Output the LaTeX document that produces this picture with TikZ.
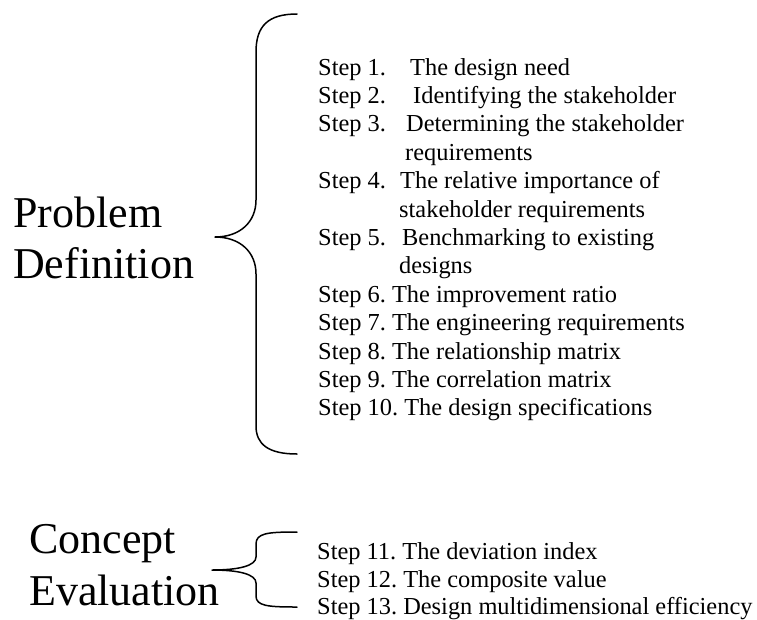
\documentclass[tikz,border=0pt]{standalone}
\usepackage{fontspec}
\setmainfont{Liberation Serif}
\frenchspacing
\tikzset{
  steptext/.style={anchor=base west, inner sep=0pt, font=\fontsize{24.4}{28.4}\selectfont},
  phase/.style={anchor=base west, inner sep=0pt, font=\fontsize{44}{51}\selectfont},
  brace/.style={line width=1.5pt, line join=round, line cap=round}
}
\newcommand{\stepno}[2]{\makebox[#1pt][l]{#2}}

\begin{document}
\begin{tikzpicture}[x=1pt,y=-1pt]
  \useasboundingbox (0,0) rectangle (757,619);
  \node[phase] (problem) at (13,227) {Problem};
  \node[phase] (definition) at (13,278) {Definition};
  \node[phase] (concept) at (29,553) {Concept};
  \node[phase] (evaluation) at (29,605) {Evaluation};
  \draw[brace] (297,14) .. controls (268,14) and (256,26) .. (256,52) -- (256,200)
    .. controls (256,222) and (240,237) .. (215,237)
    .. controls (240,237) and (256,252) .. (256,274) -- (256,426)
    .. controls (256,444) and (268,454) .. (297,454);
  \draw[brace] (297,532) .. controls (268,532) and (256,533) .. (256,544) -- (256,557)
    .. controls (256,566) and (238,570) .. (212,570)
    .. controls (238,570) and (256,574) .. (256,583) -- (256,596)
    .. controls (256,606) and (268,607) .. (297,607);
  \node[steptext] (s1) at (318,75) {\stepno{92}{Step 1.}The design need};
  \node[steptext] (s2) at (318,103.4) {\stepno{95}{Step 2.}Identifying the stakeholder};
  \node[steptext] (s3) at (318,131.8) {\stepno{88}{Step 3.}Determining the stakeholder};
  \node[steptext] (s3b) at (405,160.2) {requirements};
  \node[steptext] (s4) at (318,188.6) {\stepno{82}{Step 4.}The relative importance of};
  \node[steptext] (s4b) at (399,217) {stakeholder requirements};
  \node[steptext] (s5) at (318,245.4) {\stepno{84}{Step 5.}Benchmarking to existing};
  \node[steptext] (s5b) at (399,273.8) {designs};
  \node[steptext] (s6) at (318,302.2) {Step 6. The improvement ratio};
  \node[steptext] (s7) at (318,330.6) {Step 7. The engineering requirements};
  \node[steptext] (s8) at (318,359) {Step 8. The relationship matrix};
  \node[steptext] (s9) at (318,387.4) {Step 9. The correlation matrix};
  \node[steptext] (s10) at (318,415.8) {Step 10. The design specifications};
  \node[steptext] (s11) at (317,559) {Step 11. The deviation index};
  \node[steptext] (s12) at (317,587) {Step 12. The composite value};
  \node[steptext] (s13) at (317,614) {Step 13. Design multidimensional efficiency};
\end{tikzpicture}
\end{document}
